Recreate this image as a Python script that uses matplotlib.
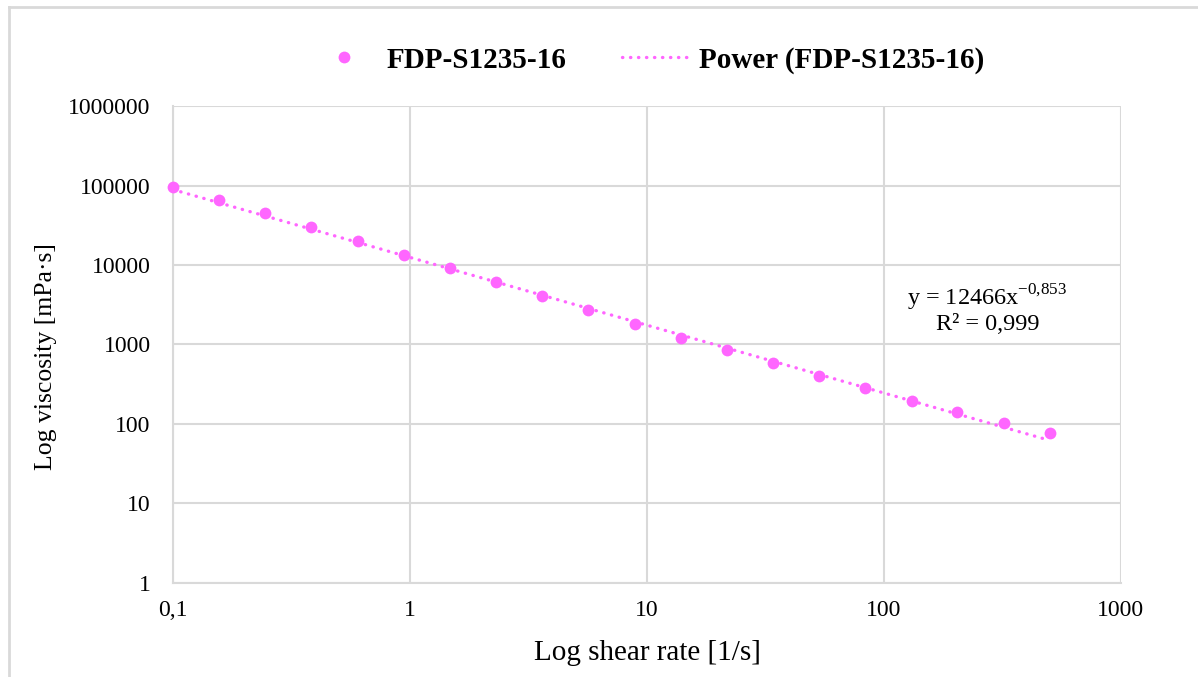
import matplotlib
matplotlib.use('Agg')
from matplotlib import pyplot as plt
from matplotlib.lines import Line2D
from matplotlib.ticker import FixedLocator, FixedFormatter, NullLocator
import numpy as np

plt.rcParams['font.family'] = ['Liberation Serif', 'DejaVu Serif']
plt.rcParams['mathtext.fontset'] = 'custom'
plt.rcParams['mathtext.rm'] = 'Liberation Serif'

# data
shear_rate = [0.1, 0.157, 0.245, 0.384, 0.601, 0.941, 1.47, 2.31, 3.61, 5.66,
              8.86, 13.9, 21.7, 34.0, 53.3, 83.4, 131, 204, 320, 500]
viscosity = [95700, 66200, 45000, 29650, 20200, 13340, 9040, 6030, 4020, 2730,
             1820, 1222, 857, 582, 403, 284, 195, 143, 102, 77]

series_name = 'FDP-S1235-16'
fit_a = 12466
fit_b = -0.853

x_ticks = [0.1, 1, 10, 100, 1000]
x_labels = ['0,1', '1', '10', '100', '1000']
y_ticks = [1, 10, 100, 1000, 10000, 100000, 1000000]
y_labels = ['1', '10', '100', '1000', '10000', '100000', '1000000']

pink = '#ff66ff'
grid_col = '#d9d9d9'

fig = plt.figure(figsize=(11.98, 6.77), dpi=100)
ax = fig.add_axes([0.1444, 0.1389, 0.7913, 0.7045])

ax.set_xscale('log')
ax.set_yscale('log')
ax.set_xlim(0.1, 1000)
ax.set_ylim(1, 1000000)

xfit = np.geomspace(shear_rate[0], shear_rate[-1], 200)
ax.plot(xfit, fit_a * xfit ** fit_b, color=pink, lw=2.4,
        linestyle=(0, (0.1, 2.3)), dash_capstyle='round', zorder=3)
ax.plot(shear_rate, viscosity, 'o', color=pink, markersize=8.5,
        markeredgewidth=0, zorder=4, clip_on=False)

ax.xaxis.set_major_locator(FixedLocator(x_ticks))
ax.xaxis.set_major_formatter(FixedFormatter(x_labels))
ax.xaxis.set_minor_locator(NullLocator())
ax.yaxis.set_major_locator(FixedLocator(y_ticks))
ax.yaxis.set_major_formatter(FixedFormatter(y_labels))
ax.yaxis.set_minor_locator(NullLocator())
ax.tick_params(length=0, labelsize=17)
ax.tick_params(axis='y', pad=16)
ax.tick_params(axis='x', pad=12)

ax.grid(True, color=grid_col, lw=1.5)
ax.set_axisbelow(True)
for s in ['top', 'right']:
    ax.spines[s].set_visible(False)
for s in ['left', 'bottom']:
    ax.spines[s].set_color(grid_col)
    ax.spines[s].set_linewidth(1.5)

ax.set_xlabel('Log shear rate [1/s]', fontsize=21, labelpad=14)
ax.set_ylabel('Log viscosity [mPa·s]', fontsize=18.5)
ax.yaxis.set_label_coords(-0.122, 0.474)

ax.text(0.859, 0.575, 'y = 12466x$^{\\mathregular{-0{,}853}}$\nR² = 0,999',
        transform=ax.transAxes, ha='center', va='center', fontsize=17.5,
        linespacing=1.1)

handles = [Line2D([], [], marker='o', color=pink, linestyle='none',
                  markersize=8.5, markeredgewidth=0),
           Line2D([], [], color=pink, lw=2.4, linestyle=(0, (0.1, 2.3)),
                  dash_capstyle='round')]
fig.legend(handles, [series_name, 'Power (' + series_name + ')'],
           loc='center', bbox_to_anchor=(0.54, 0.911), ncol=2, frameon=False,
           prop={'weight': 'bold', 'size': 21}, handlelength=2.35,
           columnspacing=1.9, handletextpad=0.3)

# outer chart frame (left and top edges visible)
fig.add_artist(Line2D([0.0075, 0.0075], [0.0, 0.99], color='#d9d9d9', lw=2,
                      transform=fig.transFigure))
fig.add_artist(Line2D([0.0075, 1.0], [0.99, 0.99], color='#d9d9d9', lw=2,
                      transform=fig.transFigure))

fig.savefig('out.png', dpi=100, facecolor='white')
